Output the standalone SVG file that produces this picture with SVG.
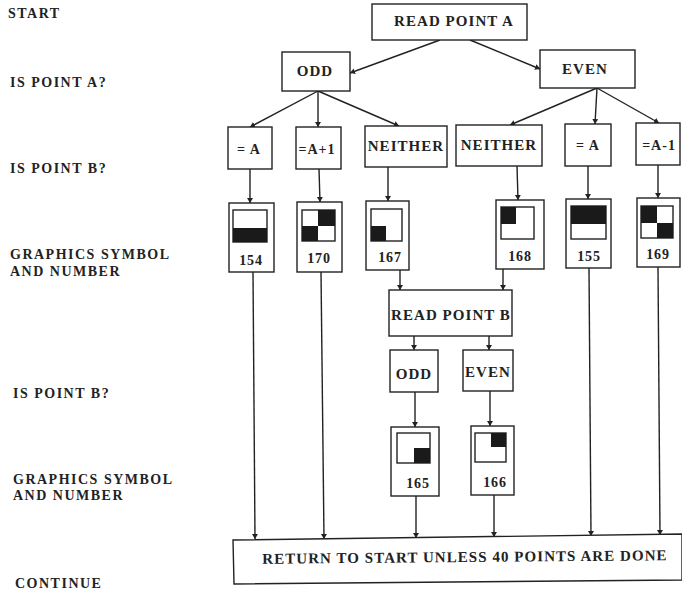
<svg xmlns="http://www.w3.org/2000/svg" width="682" height="590" viewBox="0 0 682 590">
<style>
text{font-family:"Liberation Serif",serif;font-weight:bold;fill:#222;text-anchor:middle;font-size:15px;letter-spacing:1.05px}
.l{text-anchor:start;font-size:14px;letter-spacing:1.5px}
.b{fill:#fff;stroke:#222;stroke-width:1.4}
.k{fill:#1a1a1a;stroke:none}
.c line{stroke:#222;stroke-width:1.4;fill:none}
.n{font-size:14px;letter-spacing:.8px}
.m{font-size:14px;letter-spacing:1px}
</style>
<defs><marker id="a" markerWidth="7" markerHeight="7" refX="5" refY="3" orient="auto" markerUnits="userSpaceOnUse"><path d="M0 0L5 3L0 6Z" fill="#222"/></marker></defs>
<rect width="682" height="590" fill="#fff"/>
<g id="labels">
<text class="l" x="8" y="18">START</text>
<text class="l" x="10" y="87">IS POINT A?</text>
<text class="l" x="10" y="173">IS POINT B?</text>
<text class="l" x="10" y="259">GRAPHICS SYMBOL</text>
<text class="l" x="10" y="276">AND NUMBER</text>
<text class="l" x="13" y="398">IS POINT B?</text>
<text class="l" x="13" y="484">GRAPHICS SYMBOL</text>
<text class="l" x="13" y="500">AND NUMBER</text>
<text class="l" x="15" y="588">CONTINUE</text>
</g>
<g id="connectors" class="c">
<line x1="440" y1="40" x2="350" y2="73" marker-end="url(#a)"/>
<line x1="470" y1="40" x2="540" y2="69" marker-end="url(#a)"/>
<line x1="318" y1="91" x2="250" y2="127" marker-end="url(#a)"/>
<line x1="318" y1="91" x2="318" y2="127" marker-end="url(#a)"/>
<line x1="318" y1="91" x2="399" y2="126" marker-end="url(#a)"/>
<line x1="597" y1="88" x2="510" y2="125" marker-end="url(#a)"/>
<line x1="597" y1="88" x2="595" y2="124" marker-end="url(#a)"/>
<line x1="597" y1="88" x2="659" y2="123" marker-end="url(#a)"/>
<line x1="250" y1="169" x2="250" y2="203" marker-end="url(#a)"/>
<line x1="319" y1="169" x2="320" y2="202" marker-end="url(#a)"/>
<line x1="388" y1="167" x2="388" y2="201" marker-end="url(#a)"/>
<line x1="517" y1="166" x2="518" y2="200" marker-end="url(#a)"/>
<line x1="588" y1="166" x2="588" y2="199" marker-end="url(#a)"/>
<line x1="658" y1="165" x2="658" y2="198" marker-end="url(#a)"/>
<line x1="400" y1="270" x2="400" y2="290" marker-end="url(#a)"/>
<line x1="503" y1="269" x2="503" y2="290" marker-end="url(#a)"/>
<line x1="414" y1="336" x2="414" y2="350" marker-end="url(#a)"/>
<line x1="489" y1="336" x2="489" y2="350" marker-end="url(#a)"/>
<line x1="415" y1="392" x2="415" y2="427" marker-end="url(#a)"/>
<line x1="490" y1="391" x2="490" y2="426" marker-end="url(#a)"/>
<line x1="253" y1="272" x2="255" y2="539" marker-end="url(#a)"/>
<line x1="321" y1="272" x2="324" y2="539" marker-end="url(#a)"/>
<line x1="416" y1="496" x2="416" y2="538" marker-end="url(#a)"/>
<line x1="494" y1="495" x2="494" y2="537" marker-end="url(#a)"/>
<line x1="589" y1="268" x2="591" y2="536" marker-end="url(#a)"/>
<line x1="658" y1="267" x2="660" y2="535" marker-end="url(#a)"/>
</g>
<g id="read-a"><rect class="b" x="372" y="4" width="155" height="36"/><text x="454" y="26">READ POINT A</text></g>
<g id="odd-a"><rect class="b" x="282" y="52" width="68" height="39"/><text x="315" y="76">ODD</text></g>
<g id="even-a"><rect class="b" x="540" y="50" width="95" height="38"/><text x="585" y="74">EVEN</text></g>
<g id="eq-a1"><rect class="b" x="228" y="127" width="44" height="42"/><text class="m" x="249" y="154">= A</text></g>
<g id="eq-a-plus"><rect class="b" x="296" y="127" width="45" height="42"/><text class="m" x="317" y="154">=A+1</text></g>
<g id="neither1"><rect class="b" x="365" y="126" width="82" height="41"/><text x="406" y="151">NEITHER</text></g>
<g id="neither2"><rect class="b" x="456" y="125" width="86" height="41"/><text x="499" y="150">NEITHER</text></g>
<g id="eq-a2"><rect class="b" x="565" y="124" width="46" height="42"/><text class="m" x="588" y="150">= A</text></g>
<g id="eq-a-minus"><rect class="b" x="636" y="123" width="44" height="42"/><text class="m" x="659" y="150">=A-1</text></g>
<g id="s154"><rect class="b" x="229" y="203" width="45" height="69"/><rect class="b" x="233" y="210" width="34" height="32"/><rect class="k" x="233" y="228" width="34" height="14"/><text class="n" x="251" y="265">154</text></g>
<g id="s170"><rect class="b" x="297" y="202" width="45" height="70"/><rect class="b" x="302" y="210" width="33" height="31"/><rect class="k" x="318" y="210" width="17" height="16"/><rect class="k" x="302" y="226" width="16" height="15"/><text class="n" x="319" y="263">170</text></g>
<g id="s167"><rect class="b" x="366" y="201" width="43" height="69"/><rect class="b" x="371" y="209" width="31" height="32"/><rect class="k" x="371" y="226" width="15" height="15"/><text class="n" x="390" y="262">167</text></g>
<g id="s168"><rect class="b" x="496" y="200" width="48" height="69"/><rect class="b" x="501" y="207" width="33" height="32"/><rect class="k" x="501" y="207" width="15" height="17"/><text class="n" x="520" y="261">168</text></g>
<g id="s155"><rect class="b" x="566" y="199" width="45" height="69"/><rect class="b" x="571" y="206" width="35" height="33"/><rect class="k" x="571" y="206" width="35" height="18"/><text class="n" x="589" y="261">155</text></g>
<g id="s169"><rect class="b" x="637" y="198" width="43" height="69"/><rect class="b" x="641" y="206" width="32" height="32"/><rect class="k" x="641" y="206" width="16" height="17"/><rect class="k" x="657" y="223" width="16" height="15"/><text class="n" x="658" y="259">169</text></g>
<g id="read-b"><rect class="b" x="389" y="290" width="123" height="46"/><text x="451" y="320">READ POINT B</text></g>
<g id="odd-b"><rect class="b" x="390" y="350" width="48" height="42"/><text x="414" y="379">ODD</text></g>
<g id="even-b"><rect class="b" x="463" y="350" width="50" height="41"/><text x="488" y="377">EVEN</text></g>
<g id="s165"><rect class="b" x="391" y="427" width="48" height="69"/><rect class="b" x="397" y="433" width="33" height="30"/><rect class="k" x="414" y="448" width="16" height="15"/><text class="n" x="418" y="488">165</text></g>
<g id="s166"><rect class="b" x="471" y="426" width="43" height="69"/><rect class="b" x="475" y="433" width="31" height="29"/><rect class="k" x="491" y="433" width="15" height="14"/><text class="n" x="495" y="487">166</text></g>
<g id="return"><polygon class="b" points="233,540 682,534 682,580 234,584"/><text x="465" y="562" transform="rotate(-0.5 465 562)">RETURN TO START UNLESS 40 POINTS ARE DONE</text></g>
</svg>
